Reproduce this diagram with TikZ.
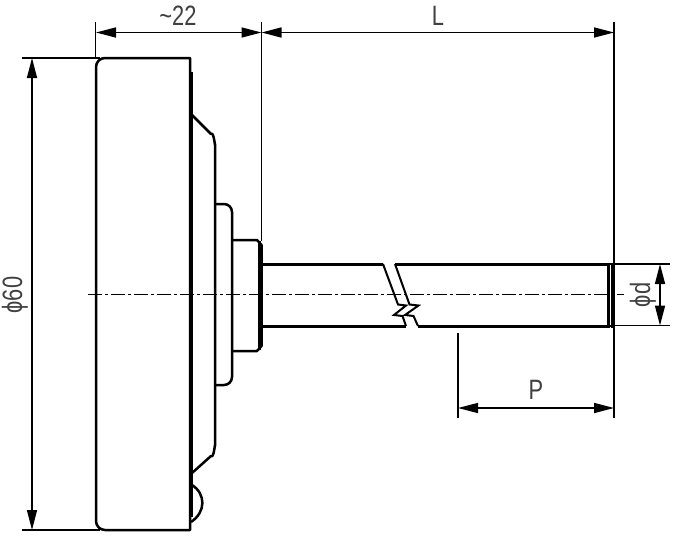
\documentclass[tikz,border=0pt]{standalone}
\usepackage{fontspec}
\setmainfont[FakeStretch=0.78]{Liberation Sans}
\usetikzlibrary{arrows.meta}
\tikzset{
  outl/.style={line width=2.5pt,line join=round},
  heavy/.style={line width=4pt},
  thinl/.style={line width=1.3pt},
  dim/.style={line width=1.5pt,{Triangle[length=20pt,width=10pt]}-{Triangle[length=20pt,width=10pt]}},
  axisl/.style={line width=1.5pt,dash pattern=on 14pt off 3pt on 3pt off 3pt},
  lab/.style={font=\fontsize{28}{28}\selectfont,inner sep=0pt,text=black!75},
}
\begin{document}
\begin{tikzpicture}[x=1pt,y=-1pt]
\useasboundingbox (0,0) rectangle (674,538);
\fill[white] (0,0) rectangle (674,538);
% reference points
\coordinate (a1) at (96,32.5); \coordinate (a2) at (261.5,32.5); \coordinate (a3) at (614,32.5);
\coordinate (b1) at (32,58); \coordinate (b2) at (32,530);
\coordinate (p1) at (458,408); \coordinate (p2) at (614,408);
\coordinate (d1) at (660,264); \coordinate (d2) at (660,325.5);
% extension lines
\draw[thinl] (95.5,22) -- (95.5,58);
\draw[thinl] (261.5,22) -- (261.5,241);
\draw[thinl] (614,22) -- (614,263);
\draw[thinl] (614,327) -- (614,418);
\draw[thinl] (458,333) -- (458,418);
\draw[thinl] (22,58) -- (100,58);
\draw[thinl] (22,530) -- (100,530);
\draw[thinl] (612,264) -- (670,264);
\draw[thinl] (612,325.5) -- (670,325.5);
% centre line
\draw[axisl] (88,294.5) -- (624,294.5);
% case
\draw[outl,fill=none] (190,58) -- (105,58) arc[start angle=-90,end angle=-180,radius=9] -- (96,521) arc[start angle=180,end angle=90,radius=9] -- (190,530) -- cycle;
\draw[heavy] (191,72) -- (191,517);
% bezel
\draw[outl] (192,115) -- (211,134) to[out=45,in=-90] (215,144) -- (215,446) to[out=90,in=-45] (211,456) -- (192,473);
% collar
\draw[outl] (215,204) -- (224,204) arc[start angle=-90,end angle=0,radius=8] -- (232,377) arc[start angle=0,end angle=90,radius=8] -- (215,385);
% hub
\draw[outl] (232,240) -- (257,240) -- (261.5,245) -- (261.5,346) -- (257,351) -- (232,351);
\draw[line width=3pt] (259,241) -- (259,350);
% knob
\draw[outl] (192,485) .. controls (206,494) and (206,512) .. (191,522);
% shaft
\draw[line width=3pt] (262,264) -- (383,264);
\draw[line width=3pt] (262,326) -- (406,326);
\draw[line width=3pt] (395,264) -- (607,264);
\draw[line width=3pt] (418,326) -- (607,326);
% break
\draw[line width=2pt,line join=miter] (383,264) -- (398,304.5) -- (406,305.5) -- (394,315) -- (402.5,316) -- (406,326);
\draw[line width=2pt,line join=miter] (395,264) -- (409.5,304.5) -- (418.5,305.5) -- (405,315) -- (413.5,316) -- (418,326);
% shaft tip
\draw[line width=3.6pt] (608.5,262.5) -- (608.5,327.5);
\draw[line width=3.6pt] (613,262.5) -- (613,327.5);
\draw[line width=2pt] (607,264) -- (615,264) (607,326) -- (615,326);
% dimensions
\draw[dim] (a1) -- (a2);
\draw[dim] (a2) -- (a3);
\draw[dim] (b1) -- (b2);
\draw[dim] (p1) -- (p2);
\draw[dim] (d1) -- (d2);
% labels
\node[lab] (t22) at (178,15.5) {\char"007E{}22};
\node[lab] (tL) at (438,15.5) {L};
\node[lab,rotate=90] (t60) at (15,295) {ϕ60};
\node[lab,rotate=90] (td) at (643,295) {ϕd};
\node[lab] (tP) at (536,390) {P};
\end{tikzpicture}
\end{document}
